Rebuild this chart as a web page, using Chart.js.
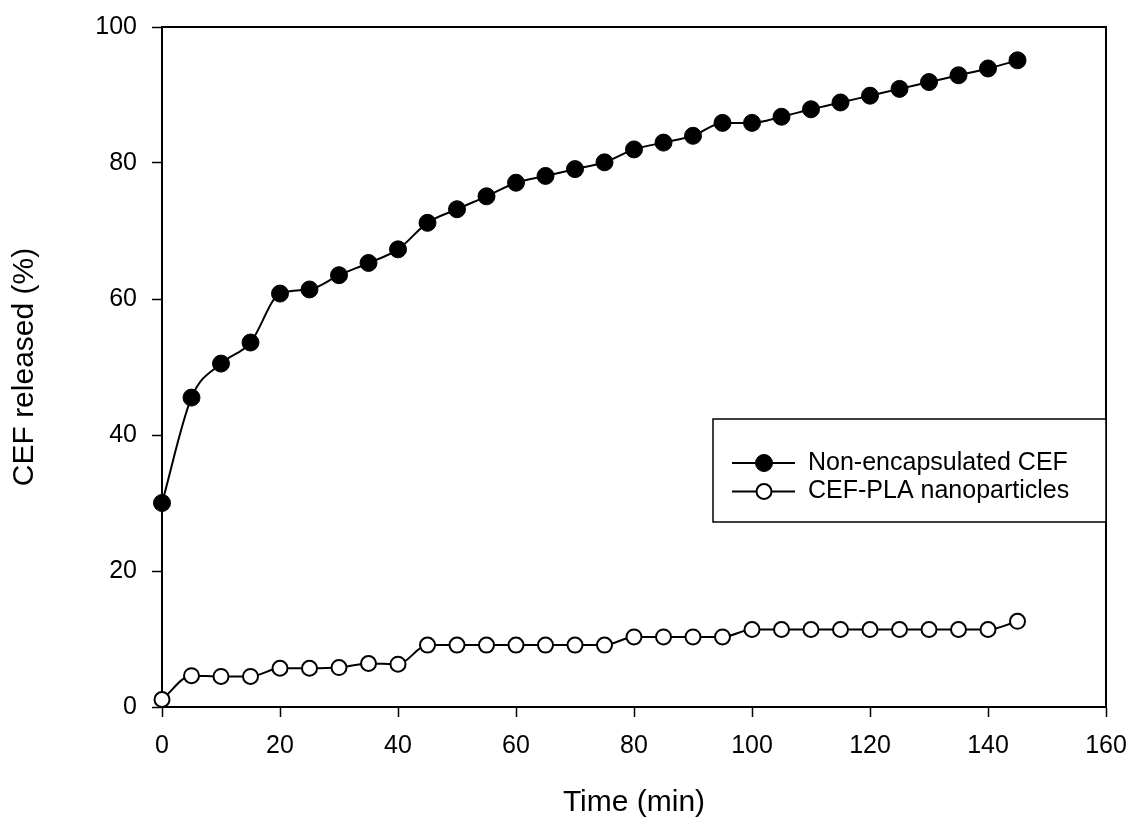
<!DOCTYPE html>
<html>
<head>
<meta charset="utf-8">
<script src="https://cdn.jsdelivr.net/npm/chart.js@4.4.1/dist/chart.umd.min.js"></script>
<style>
  html, body { margin: 0; padding: 0; background: #fff; }
  #wrap { position: relative; width: 1130px; height: 819px; }
</style>
</head>
<body>
<div id="wrap"><canvas id="chart"></canvas></div>
<script>
const times = [0, 5, 10, 15, 20, 25, 30, 35, 40, 45, 50, 55, 60, 65, 70, 75, 80, 85, 90, 95, 100, 105, 110, 115, 120, 125, 130, 135, 140, 145],
  nonEncapsulated = [30.0, 45.5, 50.5, 53.6, 60.8, 61.4, 63.5, 65.3, 67.3, 71.2, 73.2, 75.1, 77.1, 78.1, 79.1, 80.1, 82.0, 83.0, 84.0, 85.9, 85.9, 86.8, 87.9, 88.9, 89.9, 90.9, 91.9, 92.9, 93.9, 95.1],
  nanoparticles = [1.1, 4.6, 4.5, 4.5, 5.7, 5.7, 5.8, 6.4, 6.3, 9.1, 9.1, 9.1, 9.1, 9.1, 9.1, 9.1, 10.3, 10.3, 10.3, 10.3, 11.4, 11.4, 11.4, 11.4, 11.4, 11.4, 11.4, 11.4, 11.4, 12.6],
  seriesLabels = ['Non-encapsulated CEF', 'CEF-PLA nanoparticles'],
  xTicks = [0, 20, 40, 60, 80, 100, 120, 140, 160],
  yTicks = [0, 20, 40, 60, 80, 100];

const FONT = "'Liberation Sans', Arial, sans-serif";
Chart.defaults.font.family = FONT;
Chart.defaults.color = '#000';

const toPoints = (ys) => times.map((t, i) => ({ x: t, y: ys[i] }));

// top and right edge of the plot frame
const framePlugin = {
  id: 'frame',
  beforeDatasetsDraw(chart) {
    const { ctx, chartArea: a } = chart;
    ctx.save();
    ctx.strokeStyle = '#000';
    ctx.lineWidth = 2;
    ctx.beginPath();
    ctx.moveTo(a.left, a.top);
    ctx.lineTo(a.right, a.top);
    ctx.lineTo(a.right, a.bottom);
    ctx.stroke();
    ctx.restore();
  }
};

// boxed legend inside the plot, right side
const boxLegend = {
  id: 'boxLegend',
  afterDraw(chart) {
    const { ctx, chartArea: a } = chart;
    const w = 393, h = 103;
    const left = a.right - w, top = a.top + 392;
    ctx.save();
    ctx.fillStyle = '#fff';
    ctx.fillRect(left, top, w, h);
    ctx.strokeStyle = '#000';
    ctx.lineWidth = 1.5;
    ctx.strokeRect(left, top, w, h);
    chart.data.datasets.forEach((ds, i) => {
      const y = top + 44 + i * 28.5;
      ctx.strokeStyle = '#000';
      ctx.lineWidth = 2;
      ctx.beginPath();
      ctx.moveTo(left + 19, y);
      ctx.lineTo(left + 82, y);
      ctx.stroke();
      ctx.fillStyle = ds.pointBackgroundColor;
      ctx.lineWidth = ds.pointBorderWidth;
      Chart.helpers.drawPoint(ctx, { pointStyle: 'circle', radius: ds.pointRadius, borderWidth: ds.pointBorderWidth }, left + 51, y);
      ctx.fillStyle = '#000';
      ctx.font = '25px ' + FONT;
      ctx.textBaseline = 'middle';
      ctx.textAlign = 'left';
      ctx.fillText(ds.label, left + 95, y);
    });
    ctx.restore();
  }
};

new Chart(document.getElementById('chart'), {
  type: 'line',
  data: {
    datasets: [{
      label: seriesLabels[0],
      data: toPoints(nonEncapsulated),
      borderColor: '#000',
      borderWidth: 2,
      pointRadius: 8.5,
      pointBorderWidth: 1,
      pointBackgroundColor: '#000',
      pointBorderColor: '#000',
      cubicInterpolationMode: 'monotone',
      clip: false
    }, {
      label: seriesLabels[1],
      data: toPoints(nanoparticles),
      borderColor: '#000',
      borderWidth: 2,
      pointRadius: 7.5,
      pointBorderWidth: 2,
      pointBackgroundColor: '#fff',
      pointBorderColor: '#000',
      cubicInterpolationMode: 'monotone',
      clip: false
    }]
  },
  options: {
    responsive: true,
    maintainAspectRatio: false,
    animation: false,
    layout: { padding: { left: 0, right: 24, top: 27, bottom: 0 } },
    plugins: {
      legend: { display: false },
      tooltip: { enabled: false }
    },
    scales: {
      x: {
        type: 'linear',
        min: 0,
        max: 160,
        afterBuildTicks: (s) => { s.ticks = xTicks.map((v) => ({ value: v })); },
        afterFit: (s) => { s.height = 112; s.paddingLeft = 0; s.paddingRight = 0; },
        ticks: { font: { size: 25 }, padding: 14, color: '#000', maxRotation: 0 },
        grid: { drawOnChartArea: false, drawTicks: true, tickLength: 10, tickWidth: 1.5, tickColor: '#000' },
        border: { display: true, color: '#000', width: 2 },
        title: { display: true, text: 'Time (min)', font: { size: 30, lineHeight: 1 }, padding: { top: 0, bottom: 1 }, color: '#000' }
      },
      y: {
        min: 0,
        max: 100,
        afterBuildTicks: (s) => { s.ticks = yTicks.map((v) => ({ value: v })); },
        afterFit: (s) => { s.width = 162; s.paddingTop = 0; s.paddingBottom = 0; },
        ticks: { font: { size: 25 }, padding: 15, color: '#000' },
        grid: { drawOnChartArea: false, drawTicks: true, tickLength: 10, tickWidth: 1.5, tickColor: '#000' },
        border: { display: true, color: '#000', width: 2 },
        title: { display: true, text: 'CEF released (%)', font: { size: 30, lineHeight: 1 }, padding: { top: 10, bottom: 0 }, color: '#000' }
      }
    }
  },
  plugins: [framePlugin, boxLegend]
});
</script>
</body>
</html>
